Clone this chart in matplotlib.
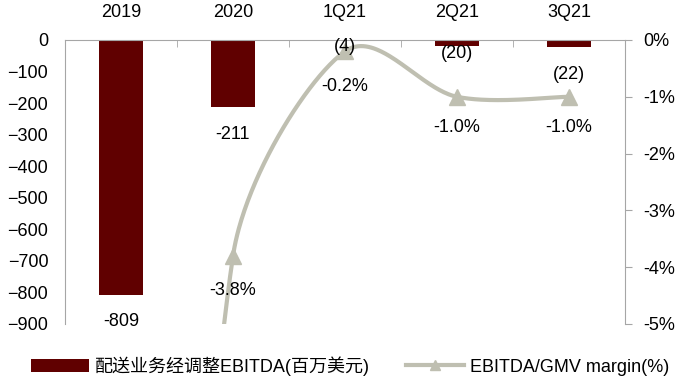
#!/usr/bin/env python3

import numpy as np
import matplotlib.pyplot as plt
from matplotlib.ticker import FixedLocator, FuncFormatter

plt.rcParams['font.family'] = ['Liberation Sans', 'Noto Sans CJK SC']

# data
periods = ['2019', '2020', '1Q21', '2Q21', '3Q21']
ebitda = [-809, -211, -4, -20, -22]
ebitda_labels = ['-809', '-211', '(4)', '(20)', '(22)']
margin = [-27.0, -3.8, -0.2, -1.0, -1.0]   # 2019 is off the scale
margin_labels = ['', '-3.8%', '-0.2%', '-1.0%', '-1.0%']

bar_name = '配送业务经调整EBITDA(百万美元)'
line_name = 'EBITDA/GMV margin(%)'

BAR_C = '#600000'
LINE_C = '#BFBFB1'
AX_C = '#A6A6A6'

#------------------------------------------------------------------------

def smooth(pts, n=80):
    # excel-ish smoothed line, done in screen space: cubic bezier,
    # tangent from the neighbours, handle length clamped by the segment
    pts = np.asarray(pts, float)
    m = len(pts)
    tang = []
    for i in range(m):
        a = pts[max(i - 1, 0)]
        b = pts[min(i + 1, m - 1)]
        d = b - a
        tang.append(d / np.hypot(*d))
    t = np.linspace(0, 1, n)[:, None]
    out = []
    for i in range(m - 1):
        p0, p3 = pts[i], pts[i + 1]
        seg = np.hypot(*(p3 - p0))
        l0 = min(np.hypot(*(pts[min(i + 1, m - 1)] - pts[max(i - 1, 0)])) / 6, seg / 3)
        l1 = min(np.hypot(*(pts[min(i + 2, m - 1)] - pts[i])) / 6, seg / 3)
        c1 = p0 + tang[i] * l0
        c2 = p3 - tang[i + 1] * l1
        out.append((1 - t) ** 3 * p0 + 3 * (1 - t) ** 2 * t * c1
                   + 3 * (1 - t) * t ** 2 * c2 + t ** 3 * p3)
    return np.vstack(out)

#------------------------------------------------------------------------

fig = plt.figure(figsize=(6.84, 3.78), dpi=100)
ax = fig.add_axes([65 / 684, 1 - 324 / 378, 560 / 684, 284 / 378])
ax2 = ax.twinx()

x = np.arange(len(periods))
ax.bar(x, ebitda, width=0.4, color=BAR_C, label=bar_name, zorder=2)

ax.set_xlim(-0.5, len(periods) - 0.5)
ax.set_ylim(-900, 0)
ax.set_yticks(np.arange(-900, 1, 100))
ax.tick_params(axis='y', length=0, pad=12, labelsize=13)

ax.xaxis.tick_top()
ax.set_xticks(x)
ax.set_xticklabels(periods)
ax.xaxis.set_minor_locator(FixedLocator(np.arange(-0.5, len(periods), 1.0)))
ax.tick_params(axis='x', which='major', length=0, pad=14, labelsize=13)
ax.tick_params(axis='x', which='minor', length=5, direction='in', color=AX_C)

for s in ['bottom', 'right']:
    ax.spines[s].set_visible(False)
for s in ['top', 'left']:
    ax.spines[s].set_color(AX_C)

# margin line on the right axis
ax2.set_ylim(-5, 0)
ax2.set_xlim(ax.get_xlim())
disp = ax2.transData.transform(np.column_stack([x, margin]))
curve = ax2.transData.inverted().transform(smooth(disp))
ax2.plot(curve[:, 0], curve[:, 1], color=LINE_C, lw=3, zorder=3)
ax2.plot(x, margin, ls='none', marker='^', ms=11, color=LINE_C, zorder=4)
ax2.set_yticks(np.arange(-5, 0.1, 1))
ax2.yaxis.set_major_formatter(FuncFormatter(lambda v, p: '%d%%' % round(v)))
ax2.tick_params(axis='y', length=5, pad=8, labelsize=13, color=AX_C)
for s in ['top', 'bottom', 'left']:
    ax2.spines[s].set_visible(False)
ax2.spines['right'].set_color(AX_C)

# bar labels (offsets in points, as placed in the original), drawn above the line
bar_offsets = [-19, -20, -4, -5, -20]
for xi, v, lab, off in zip(x, ebitda, ebitda_labels, bar_offsets):
    ax2.annotate(lab, (xi, v), xycoords=ax.transData, xytext=(0, off),
                 textcoords='offset points', ha='center', va='center',
                 fontsize=13, zorder=6)

line_offsets = [0, -25, -25, -22, -22]
for xi, v, lab, off in zip(x, margin, margin_labels, line_offsets):
    if lab:
        ax2.annotate(lab, (xi, v), xytext=(0, off), textcoords='offset points',
                     ha='center', va='center', fontsize=13, zorder=6)

# legend
h1, l1 = ax.get_legend_handles_labels()
lh = plt.Line2D([], [], color=LINE_C, lw=3, marker='^', ms=7)
fig.legend(h1 + [lh], l1 + [line_name], loc='center',
           bbox_to_anchor=(0.5 + 8 / 684, 1 - 366 / 378),
           ncol=2, frameon=False, fontsize=13, handlelength=3.2, handletextpad=0.35,
           columnspacing=2.0, handleheight=0.7)

fig.savefig('out.png', dpi=100)
